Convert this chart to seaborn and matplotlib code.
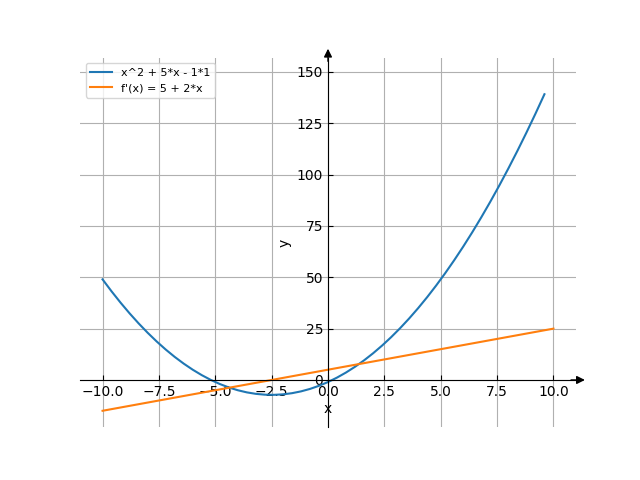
import matplotlib
matplotlib.use("Agg")
import matplotlib.pyplot as plt
from matplotlib.ticker import MultipleLocator
import seaborn as sns

# sample points of f(x) = x^2 + 5x - 1
x_curve = [-10.0, -9.6, -9.2, -8.8, -8.4, -8.0, -7.6, -7.2, -6.8, -6.4,
           -6.0, -5.6, -5.2, -4.8, -4.4, -4.0, -3.6, -3.2, -2.8, -2.4,
           -2.0, -1.6, -1.2, -0.8, -0.4, 0.0, 0.4, 0.8, 1.2, 1.6,
           2.0, 2.4, 2.8, 3.2, 3.6, 4.0, 4.4, 4.8, 5.2, 5.6,
           6.0, 6.4, 6.8, 7.2, 7.6, 8.0, 8.4, 8.8, 9.2, 9.6]
y_curve = [49.0, 43.16, 37.64, 32.44, 27.56, 23.0, 18.76, 14.84, 11.24, 7.96,
           5.0, 2.36, 0.04, -1.96, -3.64, -5.0, -6.04, -6.76, -7.16, -7.24,
           -7.0, -6.44, -5.56, -4.36, -2.84, -1.0, 1.16, 3.64, 6.44, 9.56,
           13.0, 16.76, 20.84, 25.24, 29.96, 35.0, 40.36, 46.04, 52.04, 58.36,
           65.0, 71.96, 79.24, 86.84, 94.76, 103.0, 111.56, 120.44, 129.64, 139.16]

# derivative line f'(x) = 5 + 2x
x_deriv = [-10.0, 10.0]
y_deriv = [-15.0, 25.0]

labels = ["x^2 + 5*x - 1*1", "f'(x) = 5 + 2*x"]

fig, ax = plt.subplots(figsize=(6.4, 4.8), dpi=100)

sns.lineplot(x=x_curve, y=y_curve, ax=ax, label=labels[0], sort=False, estimator=None)
sns.lineplot(x=x_deriv, y=y_deriv, ax=ax, label=labels[1], sort=False, estimator=None)

ax.set_xlim(-11, 11)
ax.set_ylim(-23, 157)
ax.yaxis.set_major_locator(MultipleLocator(25))
ax.tick_params(direction="in")

# centred axes
ax.spines["left"].set_position("zero")
ax.spines["bottom"].set_position("zero")
ax.spines["right"].set_visible(False)
ax.spines["top"].set_visible(False)

# arrow heads
ax.annotate("", xy=(1.018, 0), xycoords=("axes fraction", "data"),
            xytext=(0.99, 0), textcoords=("axes fraction", "data"),
            arrowprops=dict(arrowstyle="-|>", color="black", lw=1,
                            mutation_scale=12, shrinkA=0, shrinkB=0))
ax.annotate("", xy=(0, 1.024), xycoords=("data", "axes fraction"),
            xytext=(0, 0.99), textcoords=("data", "axes fraction"),
            arrowprops=dict(arrowstyle="-|>", color="black", lw=1,
                            mutation_scale=12, shrinkA=0, shrinkB=0))

ax.set_xlabel("x", labelpad=2)
ax.set_ylabel("y")
ax.grid(True, color="#b0b0b0")
ax.legend(loc="upper left", fontsize=8)

fig.savefig("out.png", dpi=100)
